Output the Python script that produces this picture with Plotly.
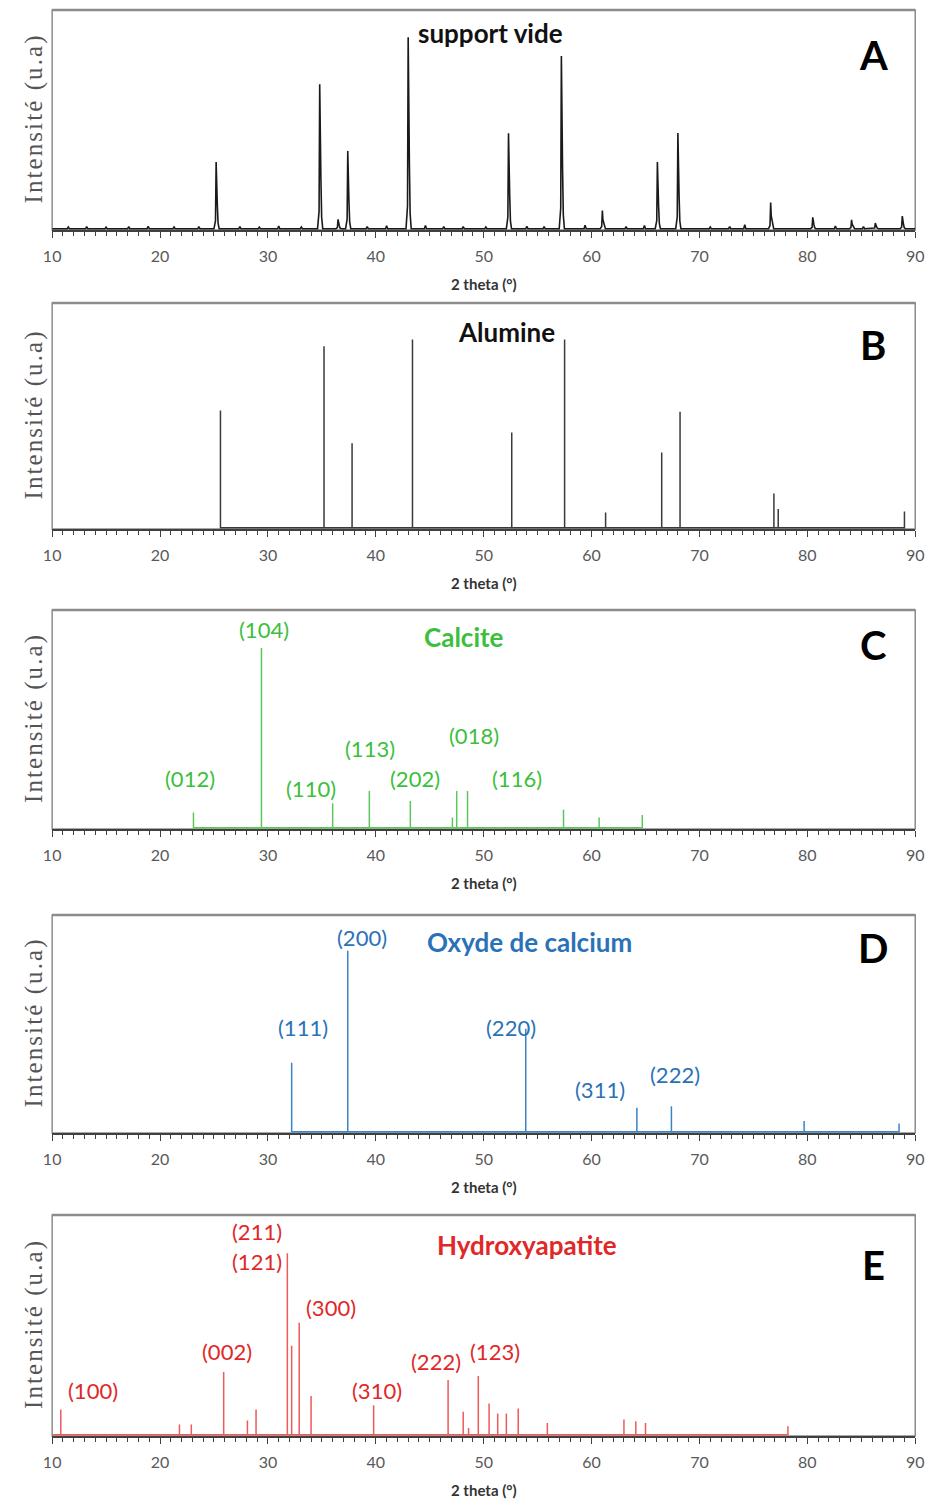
import plotly.graph_objects as go

# ---------------- data ----------------
# Panel A: measured pattern of the empty holder (peak positions / relative heights)
a_pos = [25.2, 34.8, 36.5, 37.4, 43.0, 52.3, 57.2, 61.0, 66.1, 68.0, 76.6, 80.5, 84.1, 86.3, 88.8]
a_int = [30.5, 66.0, 4.3, 35.5, 87.5, 43.6, 79.0, 8.3, 30.5, 43.8, 12.0, 5.2, 4.1, 2.6, 5.8]
a_noise_pos = [11.5, 13.2, 15.0, 17.1, 18.9, 21.3, 23.6, 27.4, 29.2, 31.0, 33.1, 39.2, 41.0,
               44.6, 46.3, 48.1, 50.2, 54.0, 55.6, 59.4, 63.2, 64.9, 71.0, 72.8, 74.2, 82.6, 85.2]
a_noise_int = [0.8, 1.0, 0.7, 0.9, 1.1, 0.8, 0.9, 1.0, 0.7, 1.2, 0.8, 1.0, 1.3,
               1.5, 0.9, 1.0, 0.8, 1.1, 0.9, 1.6, 0.9, 1.4, 0.8, 1.0, 1.8, 1.2, 1.0]

# Panel B: Alumine reference sticks
b_pos = [25.6, 35.2, 37.8, 43.4, 52.6, 57.5, 61.3, 66.5, 68.2, 76.9, 77.3, 89.0]
b_int = [52.2, 80.8, 37.6, 83.7, 42.3, 83.7, 6.8, 33.4, 51.6, 15.2, 8.3, 7.2]

# Panel C: Calcite reference sticks
c_pos = [23.1, 29.4, 36.0, 39.4, 43.2, 47.1, 47.5, 48.5, 57.4, 60.7, 64.7]
c_int = [7.0, 82.5, 11.2, 16.9, 12.3, 4.7, 16.9, 16.9, 8.2, 4.7, 5.8]
c_hkl = ["(012)", "(104)", "(110)", "(113)", "(202)", "(018)", "(116)"]
c_hkl_x = [22.76, 29.68, 33.96, 39.43, 43.62, 49.09, 53.10]
c_hkl_y = [22.4, 90.9, 17.8, 36.5, 22.4, 42.5, 22.4]

# Panel D: Oxyde de calcium reference sticks
d_pos = [32.2, 37.4, 53.9, 64.2, 67.4, 79.7, 88.5]
d_int = [31.8, 83.5, 47.5, 11.0, 11.8, 4.9, 3.8]
d_hkl = ["(111)", "(200)", "(220)", "(311)", "(222)"]
d_hkl_x = [33.23, 38.70, 52.55, 60.75, 67.77]
d_hkl_y = [48.2, 89.4, 48.2, 19.7, 26.6]

# Panel E: Hydroxyapatite reference sticks
e_pos = [10.8, 21.8, 22.9, 25.9, 28.1, 28.9, 31.8, 32.2, 32.9, 34.0, 39.8, 46.7, 48.1, 48.6,
         49.5, 50.5, 51.3, 52.1, 53.2, 55.9, 63.0, 64.1, 65.0, 78.2]
e_int = [11.5, 4.6, 4.6, 28.5, 6.4, 11.5, 82.6, 40.5, 51.0, 17.6, 13.4, 24.9, 10.4, 3.0,
         26.7, 14.2, 9.6, 9.6, 11.9, 5.3, 6.9, 6.1, 5.3, 3.8]
e_hkl = ["(100)", "(211)", "(121)", "(300)", "(002)", "(310)", "(222)", "(123)"]
e_hkl_x = [13.74, 28.95, 28.95, 35.88, 26.22, 40.07, 45.54, 51.09]
e_hkl_y = [19.9, 92.3, 78.7, 57.9, 38.0, 19.9, 33.5, 38.0]

titles = ["support vide", "Alumine", "Calcite", "Oxyde de calcium", "Hydroxyapatite"]
title_x = [50.64, 52.10, 48.18, 54.28, 54.0]
title_y = [89.5, 87.2, 87.7, 87.6, 86.4]
letters = ["A", "B", "C", "D", "E"]
letter_y = [79.5, 81.4, 84.0, 84.9, 77.4]
x_ticks = [10, 20, 30, 40, 50, 60, 70, 80, 90]
y_title = "Intensité (u.a)"

# ---------------- style / layout ----------------
W, H = 936, 1502
PX_L, PX_R, PX_YT = 44, 924, 25          # plot-area left/right, y-title centre (pixels)
panel_px = [(10, 230), (303, 529), (610, 829), (915, 1133), (1215, 1436)]  # (top, bottom) pixel
line_colors = ["#1a1a1a", "#3a3a3a", "#5cc85c", "#3a85c8", "#ee5a5a"]
text_colors = ["#111111", "#111111", "#3cbf3c", "#2a72b8", "#e02828"]
FONT = "Lato"


def peak_profile(pos, inten, noise_pos, noise_int):
    pts = [(10.0, 0.0), (90.0, 0.0)]
    for p, h in zip(pos, inten):
        pts += [(p - 0.2, 0.0), (p - 0.06, 0.12 * h), (p, h), (p + 0.05, 0.5 * h),
                (p + 0.11, 0.35 * h), (p + 0.18, 0.08 * h), (p + 0.28, 0.0)]
    for p, h in zip(noise_pos, noise_int):
        pts += [(p - 0.1, 0.0), (p, h), (p + 0.1, 0.0)]
    pts.sort()
    return [q[0] for q in pts], [q[1] for q in pts]


def sticks(pos, inten, start=None):
    xs, ys = [], []
    if start is not None:
        xs.append(start); ys.append(0)
    for p, h in zip(pos, inten):
        xs += [p, p, p]
        ys += [0, h, 0]
    return xs, ys


fig = go.Figure()
series = [
    peak_profile(a_pos, a_int, a_noise_pos, a_noise_int),
    sticks(b_pos, b_int),
    sticks(c_pos, c_int),
    sticks(d_pos, d_int),
    sticks(e_pos, e_int, start=10.0),
]

spaced_y_title = "\u200a".join(y_title)

annotations = []
shapes = []
for i in range(5):
    n = "" if i == 0 else str(i + 1)
    xa, ya = "x" + n, "y" + n
    top, bot = panel_px[i]
    xs, ys = series[i]
    fig.add_trace(go.Scatter(x=xs, y=ys, mode="lines", xaxis=xa, yaxis=ya,
                             line=dict(color=line_colors[i], width=1.6 if i == 0 else 1.5),
                             showlegend=False, hoverinfo="skip"))
    dom_y = [1 - bot / H, 1 - top / H]
    fig.layout["xaxis" + n] = dict(
        domain=[PX_L / W, PX_R / W], range=[10, 90], anchor=ya,
        tickvals=x_ticks, ticks="outside", ticklen=6, tickwidth=1, tickcolor="#404040",
        minor=dict(dtick=1, tick0=10, ticks="outside", ticklen=4, tickwidth=1, tickcolor="#404040"),
        showline=True, linecolor="#404040", linewidth=1.5,
        showgrid=False, zeroline=False, layer="below traces",
        tickfont=dict(family=FONT, size=16, color="#595959"), ticklabelstandoff=5,
    )
    fig.layout["yaxis" + n] = dict(
        domain=dom_y, range=[-0.6, 100], anchor=xa,
        showticklabels=False, ticks="", showgrid=False, zeroline=False, showline=False,
    )
    # frame
    shapes.append(dict(type="rect", xref="paper", yref="paper", x0=PX_L / W, x1=PX_R / W,
                       y0=dom_y[0], y1=dom_y[1], line=dict(color="#8c8c8c", width=1.5),
                       layer="below"))
    shapes.append(dict(type="line", xref="paper", yref="paper", x0=PX_L / W, x1=PX_R / W,
                       y0=dom_y[1], y1=dom_y[1], line=dict(color="#8c8c8c", width=2.5),
                       layer="below"))
    # y title
    annotations.append(dict(text=spaced_y_title, xref="paper", yref="paper",
                            x=PX_YT / W, y=1 - (top + bot) / 2 / H, textangle=-90, showarrow=False,
                            font=dict(family="Liberation Serif", size=25, color="#555555"),
                            xanchor="center", yanchor="middle"))
    # x title
    annotations.append(dict(text="<b>2 theta (°)</b>", xref=xa, yref="paper", x=50,
                            y=1 - (bot + 54) / H, showarrow=False,
                            font=dict(family=FONT, size=15, color="#333333"),
                            xanchor="center", yanchor="middle"))
    # panel title
    annotations.append(dict(text="<b>" + titles[i] + "</b>", xref=xa, yref=ya, x=title_x[i],
                            y=title_y[i], showarrow=False,
                            font=dict(family=FONT, size=26, color=text_colors[i]),
                            xanchor="center", yanchor="middle"))
    # letter
    annotations.append(dict(text="<b>" + letters[i] + "</b>", xref=xa, yref=ya, x=86.1,
                            y=letter_y[i], showarrow=False,
                            font=dict(family=FONT, size=40, color="#000000"),
                            xanchor="center", yanchor="middle"))

hkl_sets = [(2, c_hkl, c_hkl_x, c_hkl_y), (3, d_hkl, d_hkl_x, d_hkl_y), (4, e_hkl, e_hkl_x, e_hkl_y)]
for i, labs, lx, ly in hkl_sets:
    n = str(i + 1)
    for t, x, y in zip(labs, lx, ly):
        annotations.append(dict(text=t, xref="x" + n, yref="y" + n, x=x, y=y, showarrow=False,
                                font=dict(family=FONT, size=22, color=text_colors[i]),
                                xanchor="center", yanchor="middle"))

fig.update_layout(width=W, height=H, margin=dict(l=0, r=0, t=0, b=0),
                  paper_bgcolor="white", plot_bgcolor="white",
                  annotations=annotations, shapes=shapes)
fig.write_html("out.html",
               config={"displayModeBar": False, "responsive": False},
               post_script="document.body.style.margin='0';document.body.style.padding='0';"
                           "document.body.style.overflow='hidden';"
                           "document.documentElement.style.overflow='hidden';")
